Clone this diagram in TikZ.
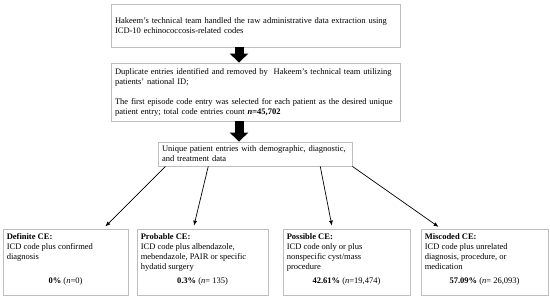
\documentclass[tikz,border=0pt]{standalone}
\usepackage{fontspec}
\setmainfont{Liberation Serif}
\usetikzlibrary{arrows.meta}
\usetikzlibrary{calc}

\definecolor{boxgray}{RGB}{190,190,190}

\begin{document}
\begin{tikzpicture}[x=1pt,y=-1pt,
  font=\fontsize{8.5}{10}\selectfont,
  box/.style={draw=boxgray,line width=0.8pt,inner xsep=4pt,inner ysep=0pt,align=left},
  catbox/.style={draw=boxgray,line width=0.8pt,minimum height=66pt,inner sep=0pt},
  cattext/.style={anchor=north west,align=left,inner xsep=4pt,inner ysep=5pt},
  catcount/.style={anchor=south,inner sep=0pt,yshift=10pt},
  bigarrow/.style={line width=9pt,-{Triangle[width=18pt,length=9pt]}},
  catarrow/.style={line width=0.7pt,-{Latex[length=5pt,width=4pt]},shorten >=3pt}]

  \useasboundingbox (0,0) rectangle (550,299);

  % top chain
  \node[box,text width=281pt,minimum height=43pt] (extract) at (255.5,25.5)
    {Hakeem’s technical team handled the raw administrative data extraction using\\
     ICD-10 echinococcosis-related codes};
  \node[box,text width=281pt,minimum height=58pt] (dedup) at (255.5,92)
    {Duplicate entries identified and removed by \ Hakeem’s technical team utilizing\\
     patients’ national ID;\\[10pt]
     The first episode code entry was selected for each patient as the desired unique\\
     patient entry; total code entries count \textbf{\textit{n}=45,702}};
  \node[box,text width=186pt,minimum height=24pt] (unique) at (255,154)
    {Unique patient entries with demographic, diagnostic,\\
     and treatment data};

  \coordinate (ax) at (239,0);
  \draw[bigarrow] (ax |- extract.south) -- (ax |- dedup.north);
  \draw[bigarrow] (ax |- dedup.south) -- (ax |- unique.north);

  % categories
  \node[catbox,minimum width=125pt] (definite) at (65.5,262) {};
  \node[catbox,minimum width=131pt] (probable) at (202.5,262) {};
  \node[catbox,minimum width=127pt] (possible) at (346.5,262) {};
  \node[catbox,minimum width=127pt] (miscoded) at (484.5,262) {};

  \node[cattext] (definitetext) at (definite.north west)
    {\textbf{Definite CE:}\\ICD code plus confirmed\\diagnosis};
  \node[cattext] (probabletext) at (probable.north west)
    {\textbf{Probable CE:}\\ICD code plus albendazole,\\mebendazole, PAIR or specific\\hydatid surgery};
  \node[cattext] (possibletext) at (possible.north west)
    {\textbf{Possible CE:}\\ICD code only or plus\\nonspecific cyst/mass\\procedure};
  \node[cattext] (miscodedtext) at (miscoded.north west)
    {\textbf{Miscoded CE:}\\ICD code plus unrelated\\diagnosis, procedure, or\\medication};

  \node[catcount] (definitecount) at (definite.south) {\textbf{0\%} (\textit{n}=0)};
  \node[catcount] (probablecount) at (probable.south) {\textbf{0.3\%} (\textit{n}= 135)};
  \node[catcount] (possiblecount) at (possible.south) {\textbf{42.61\%} (\textit{n}=19,474)};
  \node[catcount] (miscodedcount) at (miscoded.south) {\textbf{57.09\%} (\textit{n}= 26,093)};

  \draw[catarrow] ($(unique.south west)!0.04!(unique.south east)$) -- ($(definite.north west)!0.8!(definite.north east)$);
  \draw[catarrow] ($(unique.south west)!0.26!(unique.south east)$) -- ($(probable.north west)!0.43!(probable.north east)$);
  \draw[catarrow] ($(unique.south west)!0.835!(unique.south east)$) -- ($(possible.north west)!0.39!(possible.north east)$);
  \draw[catarrow] (unique.south east) -- ($(miscoded.north west)!0.16!(miscoded.north east)$);

\end{tikzpicture}
\end{document}
